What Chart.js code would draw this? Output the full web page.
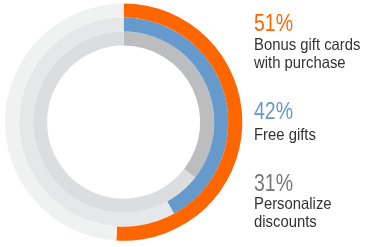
<!DOCTYPE html>
<html>
<head>
<meta charset="utf-8">
<script src="https://cdn.jsdelivr.net/npm/chart.js@4"></script>
<style>
  html, body { margin: 0; padding: 0; background: #fff; }
  #wrap { position: relative; width: 367px; height: 247px; overflow: hidden; }
  #chart { position: absolute; left: 0; top: 0; }
  .pct, .lbl { position: absolute; left: 254px; white-space: nowrap; transform-origin: 0 0; font-family: "Liberation Sans", Arial, sans-serif; }
  .pct { font-size: 23.5px; line-height: 24px; transform: scaleX(0.83); }
  .lbl { font-size: 16.5px; line-height: 18px; color: #333; transform: scaleX(0.9); }
</style>
</head>
<body>
<div id="wrap">
  <canvas id="chart" width="367" height="247"></canvas>
</div>
<script>
// data
const categories = ["Bonus gift cards\nwith purchase", "Free gifts", "Personalize\ndiscounts"];
const pctLabels = ["51%", "42%", "31%"];
const ringValues = [51, 42, 35.5];
const colors = ["#ff6600", "#6699cc", "#bcbdbf"];
const trackColors = ["#f0f1f1", "#e6e7e8", "#dcddde"];
const pctColors = ["#ff6600", "#6699cc", "#777777"];
const pctTops = [11, 99, 171];
const lblTops = [35.3, 124.6, 194.3];

// texte rechts
const wrap = document.getElementById("wrap");
categories.forEach((c, i) => {
  const p = document.createElement("div");
  p.className = "pct";
  p.style.top = pctTops[i] + "px";
  p.style.color = pctColors[i];
  p.textContent = pctLabels[i];
  wrap.appendChild(p);

  const l = document.createElement("div");
  l.className = "lbl";
  l.style.top = lblTops[i] + "px";
  l.innerHTML = c.replace("\n", "<br>");
  wrap.appendChild(l);
});

new Chart(document.getElementById("chart"), {
  type: "doughnut",
  data: {
    labels: ["value", "rest"],
    datasets: ringValues.map((v, i) => ({
      data: [v, 100 - v],
      backgroundColor: [colors[i], trackColors[i]],
      borderWidth: 0,
      hoverOffset: 0,
    })),
  },
  options: {
    responsive: false,
    animation: false,
    cutout: "64.5%",
    layout: {
      padding: { left: 5, right: 124.7, top: 3.3, bottom: 6 },
    },
    plugins: {
      legend: { display: false },
      tooltip: { enabled: false },
    },
  },
});
</script>
</body>
</html>
